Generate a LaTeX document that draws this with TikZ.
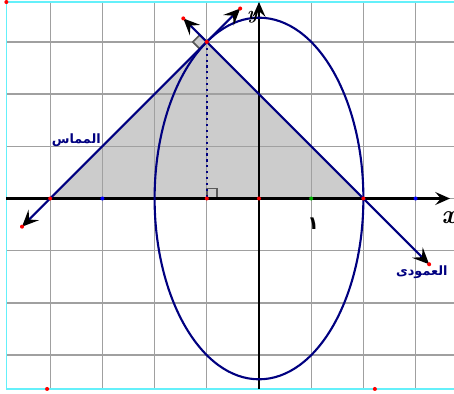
\documentclass[tikz,border=0pt]{standalone}
\usepackage{fontspec}
\usetikzlibrary{arrows.meta}
\newfontfamily\arabicfont[Script=Arabic]{DejaVu Sans}
\TeXXeTstate=1
\definecolor{navy}{RGB}{0,0,128}
\definecolor{gridgray}{RGB}{160,160,160}
\definecolor{fillgray}{RGB}{204,204,204}
\definecolor{framecyan}{RGB}{100,240,250}
\tikzset{
  curve/.style={navy, line width=1.15pt},
  tip/.style={-{Stealth[black,length=8pt,width=7pt,inset=3pt]}},
  bothtips/.style={{Stealth[black,length=9pt,width=8pt,inset=3.5pt]}-{Stealth[black,length=9pt,width=8pt,inset=3.5pt]}},
  rdot/.style={circle, fill=red, inner sep=0pt, minimum size=2.2pt},
  bdot/.style={circle, fill=blue, inner sep=0pt, minimum size=2.2pt},
  gdot/.style={circle, fill=green!70!black, inner sep=0pt, minimum size=2.2pt},
  lbl/.style={navy, font=\arabicfont\bfseries\fontsize{7}{8}\selectfont},
  axis/.style={black, line width=1.2pt},
  rmark/.style={draw=black!65, fill=fillgray, line width=0.9pt}
}
\begin{document}
\begin{tikzpicture}
\useasboundingbox (-4.962,-3.745) rectangle (3.736,3.803);
% fill
\fill[fillgray] (-4,0) -- (-1,3) -- (2,0) -- cycle;
% grid
\foreach \x in {-4,...,3} \draw[gridgray, line width=0.7pt] (\x,-3.649) -- (\x,3.764);
\foreach \y in {-3,...,3} \draw[gridgray, line width=0.7pt] (-4.84,\y) -- (3.736,\y);
% frame
\draw[framecyan, line width=0.8pt] (3.736,3.764) -- (-4.84,3.764) -- (-4.84,-3.649) -- (3.736,-3.649);
% coordinates
\coordinate (O) at (0,0);
\coordinate (A) at (-4,0);
\coordinate (P) at (-1,3);
\coordinate (H) at (-1,0);
\coordinate (B) at (2,0);
\coordinate (T1) at (-4.54,-0.54);
\coordinate (T2) at (-0.36,3.64);
\coordinate (N1) at (-1.45,3.45);
\coordinate (N2) at (3.26,-1.26);
\coordinate (XL) at (-4.84,0);
\coordinate (XR) at (3.66,0);
\coordinate (YB) at (0,-3.649);
\coordinate (YT) at (0,3.764);
% right angle marks
\draw[rmark] (H) rectangle ++(0.19,0.19);
\draw[rmark] (P) -- ++(-0.134,-0.134) -- ++(-0.134,0.134) -- ++(0.134,0.134) -- cycle;
% axes
\draw[axis, tip] (XL) -- (XR);
\draw[axis, tip] (YB) -- (YT);
% ellipse
\draw[curve] (O) ellipse [x radius=2, y radius=3.4641];
% dotted
\draw[navy, line width=1.2pt, dotted] (P) -- (H);
% tangent and normal
\draw[curve, bothtips] (T1) -- (T2);
\draw[curve, bothtips] (N1) -- (N2);
% dots
\foreach \p in {A,P,H,O,B,T1,T2,N1,N2} \node[rdot] at (\p) {};
\node[rdot] at (-4.84,3.764) {};
\node[rdot] at (-4.06,-3.649) {};
\node[rdot] at (2.22,-3.649) {};
\node[bdot] at (-3,0) {};
\node[bdot] at (3,0) {};
\node[gdot] at (1,0) {};
% labels
\node[font=\bfseries\itshape\Large] (xl) at (3.64,-0.36) {x};
\node[font=\bfseries\itshape] (yl) at (-0.13,3.47) {y};
\node[font=\arabicfont\bfseries] (one) at (1.04,-0.48) {١};
\node[lbl] (tan) at (-3.50,1.12) {\beginR المماس\endR};
\node[lbl] (nor) at (3.12,-1.41) {\beginR العمودى\endR};
\end{tikzpicture}
\end{document}
